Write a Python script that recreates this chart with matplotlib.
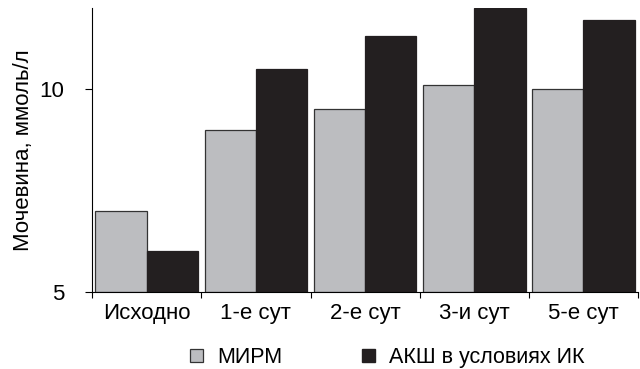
import numpy as np
import matplotlib.pyplot as plt
from matplotlib.patches import Patch

plt.rcParams['font.family'] = ['Liberation Sans', 'DejaVu Sans']

categories = ['Исходно', '1-е сут', '2-е сут', '3-и сут', '5-е сут']
mirm = [7.0, 9.0, 9.5, 10.1, 10.0]
aksh = [6.0, 10.5, 11.3, 12.0, 11.7]
series_names = ['МИРМ', 'АКШ в условиях ИК']

gray = '#bcbdc0'
black = '#231f20'

fig = plt.figure(figsize=(6.4, 3.69), dpi=100)
ax = fig.add_axes([0.144, 0.209, 0.853, 0.769])

x = np.arange(len(categories))
w = 0.47
ax.bar(x - w / 2, np.array(mirm) - 5, w, bottom=5, color=gray, edgecolor='#333333', linewidth=0.9)
ax.bar(x + w / 2, np.array(aksh) - 5, w, bottom=5, color=black, edgecolor=black, linewidth=0.9)

ax.set_xlim(-0.5, len(categories) - 0.5)
ax.set_ylim(5, 12)
ax.set_yticks([5, 10])
ax.set_xticks(np.arange(len(categories) + 1) - 0.5)
ax.set_xticklabels([])
ax.set_xticks(x, minor=True)
ax.set_xticklabels(categories, minor=True, fontsize=16)
ax.tick_params(axis='x', which='minor', length=0, pad=8)
ax.tick_params(axis='x', which='major', length=4, width=0.8)
ax.tick_params(axis='y', labelsize=16, length=5, width=0.8, pad=15)
ax.set_ylabel('Мочевина, ммоль/л', fontsize=16, labelpad=4)

for s in ['top', 'right']:
    ax.spines[s].set_visible(False)

handles = [Patch(facecolor=gray, edgecolor='#333333', linewidth=0.9),
           Patch(facecolor=black, edgecolor=black)]
fig.legend(handles, series_names, loc='lower center', bbox_to_anchor=(0.605, -0.05),
           ncol=2, frameon=False, fontsize=15.5, handlelength=0.6, handleheight=0.6,
           handletextpad=0.65, columnspacing=3.7)

fig.savefig('out.png', dpi=100)
